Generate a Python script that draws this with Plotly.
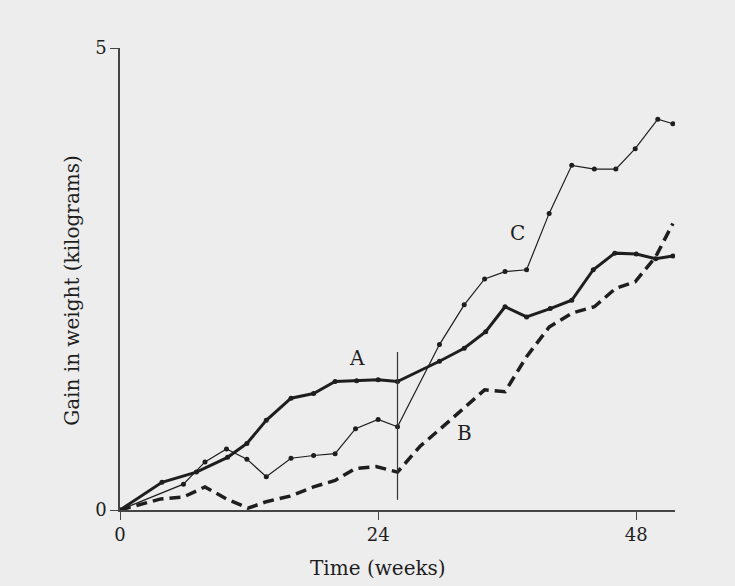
import plotly.graph_objects as go

# Series A (thick solid)
weeks_A = [0, 3.9, 7.1, 10, 11.8, 13.6, 15.9, 18, 20, 22, 24, 25.8, 29.7, 32, 34, 35.8, 37.8, 40, 42, 44, 46, 48, 49.8, 51.4]
gain_A = [0, 0.30, 0.41, 0.57, 0.72, 0.97, 1.21, 1.26, 1.39, 1.40, 1.41, 1.39, 1.61, 1.75, 1.93, 2.20, 2.09, 2.18, 2.27, 2.60, 2.78, 2.77, 2.72, 2.75]

# Series C (thin with dots)
weeks_C = [0, 5.9, 7.9, 9.9, 11.8, 13.6, 15.9, 18, 20, 21.9, 24, 25.8, 29.7, 32, 33.9, 35.8, 37.8, 39.9, 42, 44.1, 46.1, 47.9, 50, 51.4]
gain_C = [0, 0.28, 0.52, 0.66, 0.55, 0.36, 0.56, 0.59, 0.61, 0.88, 0.98, 0.90, 1.79, 2.22, 2.50, 2.58, 2.60, 3.21, 3.73, 3.69, 3.69, 3.91, 4.23, 4.18]

# Series B (thick dashed)
weeks_B = [0, 3.8, 5.9, 7.9, 9.9, 11.9, 13.6, 15.8, 18, 20, 21.9, 23.8, 25.8, 27.9, 29.7, 32, 33.9, 35.8, 37.8, 39.9, 42, 44.1, 46.1, 47.9, 49.8, 51.4]
gain_B = [0, 0.12, 0.14, 0.25, 0.12, 0.02, 0.09, 0.15, 0.25, 0.32, 0.45, 0.47, 0.41, 0.69, 0.87, 1.10, 1.30, 1.28, 1.66, 1.98, 2.13, 2.20, 2.40, 2.47, 2.74, 3.10]

# Vertical divider (week, from, to)
divider_week = 25.8
divider_low = 0.11
divider_high = 1.71

# Series labels
label_text = ["A", "B", "C"]
label_week = [22.0, 32.0, 37.0]
label_gain = [1.65, 0.83, 3.0]

x_ticks = [0, 24, 48]
y_ticks = [0, 5]

SERIF = "DejaVu Serif"
INK = "#1e1e1e"
BG = "#ededed"

fig = go.Figure()
fig.add_trace(go.Scatter(x=weeks_B, y=gain_B, mode="lines",
                         line=dict(color=INK, width=3.5, dash="11px,6px"),
                         showlegend=False, hoverinfo="skip"))
fig.add_trace(go.Scatter(x=weeks_C, y=gain_C, mode="lines+markers",
                         line=dict(color=INK, width=1.2),
                         marker=dict(color=INK, size=5),
                         showlegend=False))
fig.add_trace(go.Scatter(x=weeks_A, y=gain_A, mode="lines+markers",
                         line=dict(color=INK, width=3),
                         marker=dict(color=INK, size=5),
                         showlegend=False))
fig.add_trace(go.Scatter(x=[divider_week, divider_week], y=[divider_low, divider_high],
                         mode="lines", line=dict(color="#333", width=1.2),
                         showlegend=False, hoverinfo="skip"))

for t, xw, yg in zip(label_text, label_week, label_gain):
    fig.add_annotation(x=xw, y=yg, text=t, showarrow=False,
                       font=dict(family=SERIF, size=20, color=INK))

fig.add_annotation(xref="paper", yref="y", x=-0.087, y=2.38, text="Gain in weight (kilograms)",
                   textangle=-90, showarrow=False, xanchor="center",
                   font=dict(family=SERIF, size=20, color=INK))
fig.add_annotation(xref="x", yref="paper", x=24.0, y=-0.1255, text="Time (weeks)",
                   showarrow=False, yanchor="middle",
                   font=dict(family=SERIF, size=20, color=INK))

fig.update_xaxes(range=[0, 51.6], tickvals=x_ticks, ticks="outside", ticklen=8,
                 tickcolor="#444", showline=True, linecolor="#444", linewidth=1.5,
                 showgrid=False, zeroline=False,
                 tickfont=dict(family=SERIF, size=18, color=INK))
fig.update_yaxes(range=[0, 5], tickvals=y_ticks, ticks="outside", ticklen=8,
                 tickcolor="#444", showline=True, linecolor="#444", linewidth=1.5,
                 showgrid=False, zeroline=False,
                 tickfont=dict(family=SERIF, size=18, color=INK))

fig.update_layout(width=735, height=586,
                  margin=dict(l=120, r=60, t=48, b=76),
                  paper_bgcolor=BG, plot_bgcolor=BG)

fig.write_html("out.html", config={"displayModeBar": False})

# remove the default page margin so the figure sits at the window's corner
with open("out.html", encoding="utf-8") as f:
    html = f.read()
html = html.replace("<head>", "<head><style>html,body{margin:0;padding:0;background:%s;}</style>" % BG, 1)
with open("out.html", "w", encoding="utf-8") as f:
    f.write(html)
